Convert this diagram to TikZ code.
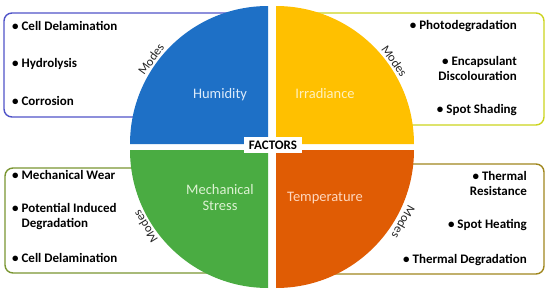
\documentclass[tikz,border=0pt]{standalone}
\usepackage{fontspec}
\setmainfont{Carlito}
\usepackage{xcolor}
\definecolor{quadA}{RGB}{30,112,198}
\definecolor{quadB}{RGB}{255,192,0}
\definecolor{quadC}{RGB}{74,172,66}
\definecolor{quadD}{RGB}{224,92,4}
\definecolor{labA}{RGB}{220,235,250}
\definecolor{labB}{RGB}{255,240,190}
\definecolor{labC}{RGB}{220,242,210}
\definecolor{labD}{RGB}{255,215,190}
\definecolor{boxA}{RGB}{80,84,200}
\definecolor{boxB}{RGB}{204,212,30}
\definecolor{boxC}{RGB}{122,150,50}
\definecolor{boxD}{RGB}{160,135,30}
\newlength{\quadrad}
\setlength{\quadrad}{138pt}
\usepackage{tikz}
\usetikzlibrary{positioning}

\begin{document}
\begin{tikzpicture}[x=1pt,y=1pt,
  modebox/.style={draw,line width=1.4pt,rounded corners=8pt},
  item/.style={font=\fontsize{13}{15}\selectfont\bfseries,inner sep=0pt},
  quadlab/.style={font=\fontsize{14.5}{16}\selectfont,align=center,inner sep=0pt},
  modes/.style={font=\fontsize{12.5}{14}\selectfont,text=black!85,anchor=south,inner sep=1pt}]
\useasboundingbox (0,0) rectangle (550,293);
\fill[white] (0,0) rectangle (550,293);
\draw[modebox,boxA] (4,176) rectangle (250,280);
\draw[modebox,boxB] (300,168) rectangle (544,280);
\draw[modebox,boxC] (5,20) rectangle (250,125);
\draw[modebox,boxD] (300,19) rectangle (544,129);
\coordinate (ctrA) at (268,149);
\coordinate (ctrB) at (276,149);
\coordinate (ctrC) at (268,143);
\coordinate (ctrD) at (276,143);
\fill[quadA] (ctrA) -- ++(180:\quadrad) arc[start angle=180,end angle=90,radius=\quadrad] -- cycle;
\fill[quadB] (ctrB) -- ++(90:\quadrad) arc[start angle=90,end angle=0,radius=\quadrad] -- cycle;
\fill[quadC] (ctrC) -- ++(180:\quadrad) arc[start angle=180,end angle=270,radius=\quadrad] -- cycle;
\fill[quadD] (ctrD) -- ++(270:\quadrad) arc[start angle=270,end angle=360,radius=\quadrad] -- cycle;
\node[quadlab,text=labA] (humid) at (220,198) {Humidity};
\node[quadlab,text=labB] (irrad) at (325,199) {Irradiance};
\node[quadlab,text=labC] (mech) at (220,95) {Mechanical\\Stress};
\node[quadlab,text=labD] (temp) at (325,95) {Temperature};
\node[fill=white,font=\fontsize{13}{15}\selectfont\bfseries,inner xsep=5pt,inner ysep=4pt] (factors) at (273,148) {FACTORS};
\node[modes,rotate=54] (modesA) at ([shift={(144:139)}]ctrA) {Modes};
\node[modes,rotate=-55] (modesB) at ([shift={(35:139)}]ctrB) {Modes};
\node[modes,rotate=122] (modesC) at ([shift={(212:139)}]ctrC) {Modes};
\node[modes,rotate=-119.5] (modesD) at ([shift={(-29.5:141)}]ctrD) {Modes};
\node[item,anchor=west] (humA) at (12,267) {• Cell Delamination};
\node[item,anchor=west] (humB) at (12,229) {• Hydrolysis};
\node[item,anchor=west] (humC) at (12,192) {• Corrosion};
\node[item,anchor=east] (irrA) at (517,267) {• Photodegradation};
\node[item,anchor=east,align=right] (irrB) at (517,224.5) {• Encapsulant\\Discolouration};
\node[item,anchor=east] (irrC) at (517,183) {• Spot Shading};
\node[item,anchor=west] (mecA) at (12,118) {• Mechanical Wear};
\node[item,anchor=west,align=left] (mecB) at (12,76.5) {• Potential Induced\\\hphantom{• }Degradation};
\node[item,anchor=west] (mecC) at (12,35) {• Cell Delamination};
\node[item,anchor=east,align=right] (tmpA) at (527,109.5) {• Thermal\\Resistance};
\node[item,anchor=east] (tmpB) at (527,68) {• Spot Heating};
\node[item,anchor=east] (tmpC) at (527,33) {• Thermal Degradation};
\end{tikzpicture}
\end{document}
